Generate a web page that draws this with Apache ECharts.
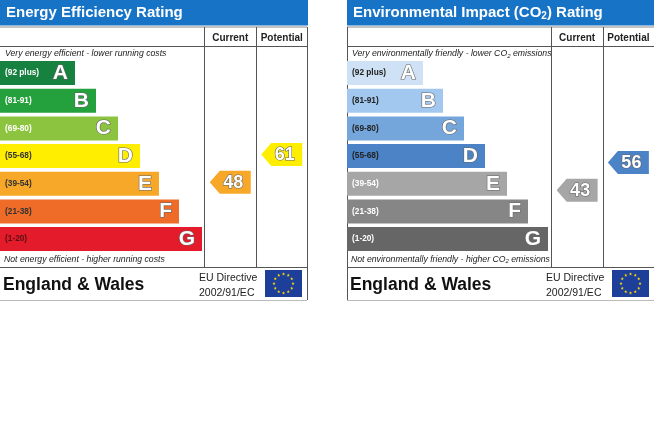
<!DOCTYPE html>
<html>
<head>
<meta charset="utf-8">
<script src="https://cdn.jsdelivr.net/npm/echarts@6/dist/echarts.min.js"></script>
<style>
html,body{margin:0;padding:0;background:#fff;}
#chart{width:654px;height:437px;}
</style>
</head>
<body>
<div id="chart"></div>
<script>
// ---------------- DATA ----------------
const bandLetters = ['A', 'B', 'C', 'D', 'E', 'F', 'G'];
const bandRanges = ['(92 plus)', '(81-91)', '(69-80)', '(55-68)', '(39-54)', '(21-38)', '(1-20)'];
const bandMinScores = [92, 81, 69, 55, 39, 21, 1];
const scoreColumns = ['Current', 'Potential'];

// bar lengths (scale 0..204)
const energyBarLengths = [75, 96, 118, 140, 159, 179, 202];
const co2BarLengths = [76, 96, 117, 138, 160, 181, 201];

const energyScores = [48, 61];   // Current, Potential
const co2Scores = [43, 56];      // Current, Potential

const energyTitle = 'Energy Efficiency Rating';
const co2Title = 'Environmental Impact (CO{s|2}) Rating';
const energyTopNote = 'Very energy efficient - lower running costs';
const energyBottomNote = 'Not energy efficient - higher running costs';
const co2TopNote = 'Very environmentally friendly - lower CO{s|2} emissions';
const co2BottomNote = 'Not environmentally friendly - higher CO{s|2} emissions';
const regionLabel = 'England & Wales';
const directiveLines = ['EU Directive', '2002/91/EC'];

// ---------------- STYLES ----------------
const energyColors = ['#17813f', '#24a13c', '#8cc43f', '#ffee00', '#f7a828', '#ee6b28', '#e31b2a'];
const co2Colors = ['#cfe1f4', '#a2c8ef', '#74a6db', '#4b83c6', '#a6a6a6', '#868686', '#666666'];
const energyRangeTextColors = ['#fff', '#fff', '#fff', '#333', '#333', '#333', '#5a1010'];
const co2RangeTextColors = ['#222', '#222', '#222', '#222', '#fff', '#fff', '#fff'];
const FONT = '"Liberation Sans", Arial, sans-serif';
const headerBlue = '#1673c6';
const lineGray = '#555';

function bandOf(score) {
  for (let i = 0; i < bandMinScores.length; i++) if (score >= bandMinScores[i]) return i;
  return bandMinScores.length - 1;
}

// ---------------- LAYOUT ----------------
const panels = [
  { ox: 0, lengths: energyBarLengths, colors: energyColors, rangeColors: energyRangeTextColors,
    scores: energyScores, title: energyTitle, top: energyTopNote, bottom: energyBottomNote, arrowShift: -1.5 },
  { ox: 347, lengths: co2BarLengths, colors: co2Colors, rangeColors: co2RangeTextColors,
    scores: co2Scores, title: co2Title, top: co2TopNote, bottom: co2BottomNote, arrowShift: 6.5 }
];
const PW = 307;          // panel width
const gridTop = 59.2, gridH = 193.7;

const grid = [], xAxis = [], yAxis = [], series = [], graphic = [];

panels.forEach((p, k) => {
  const gBars = k * 2, gScores = k * 2 + 1;
  grid.push({ left: p.ox, top: gridTop, width: 204, height: gridH });
  grid.push({ left: p.ox + 204.5, top: gridTop, width: 103, height: gridH });

  xAxis.push({ gridIndex: gBars, type: 'value', min: 0, max: 204, show: false });
  yAxis.push({ gridIndex: gBars, type: 'category', data: bandLetters, inverse: true, show: false });

  xAxis.push({ gridIndex: gScores, type: 'category', data: scoreColumns, position: 'top',
    axisLine: { show: false }, axisTick: { show: false }, splitLine: { show: false },
    axisLabel: { interval: 0, hideOverlap: false, margin: 16, fontSize: 10, fontWeight: 'bold', color: '#222', fontFamily: FONT } });
  yAxis.push({ gridIndex: gScores, type: 'category', data: bandLetters, inverse: true, show: false });

  // band bars with range labels
  series.push({
    type: 'bar', xAxisIndex: gBars, yAxisIndex: gBars, barWidth: 24, silent: true,
    data: p.lengths.map((v, i) => ({
      value: v, itemStyle: { color: p.colors[i] },
      label: { color: p.rangeColors[i] }
    })),
    label: { show: true, position: 'insideLeft', distance: 5, fontSize: 8.3, fontWeight: 'bold',
      fontFamily: FONT, formatter: (d) => bandRanges[d.dataIndex] },
    animation: false
  });
  // overlay for band letters
  series.push({
    type: 'bar', xAxisIndex: gBars, yAxisIndex: gBars, barWidth: 24, barGap: '-100%', silent: true,
    data: p.lengths.slice(),
    itemStyle: { color: 'rgba(0,0,0,0)' },
    label: { show: true, position: 'insideRight', distance: 7, fontSize: 21, fontWeight: 'bold',
      fontFamily: FONT, color: '#fff', textBorderColor: '#666', textBorderWidth: 1.2,
      formatter: (d) => bandLetters[d.dataIndex] },
    animation: false
  });
  // score arrows
  series.push({
    type: 'custom', xAxisIndex: gScores, yAxisIndex: gScores, silent: true, animation: false,
    data: p.scores.map((s, c) => [c, bandOf(s), s]),
    renderItem: (params, api) => {
      const c = api.coord([api.value(0), api.value(1)]);
      const score = api.value(2);
      const col = p.colors[api.value(1)];
      const w = 41, h = 23, tip = 10;
      const x0 = c[0] - w / 2, cy = c[1] + p.arrowShift;
      return {
        type: 'group',
        children: [
          { type: 'polygon', shape: { points: [[x0, cy], [x0 + tip, cy - h / 2], [x0 + w, cy - h / 2], [x0 + w, cy + h / 2], [x0 + tip, cy + h / 2]] },
            style: { fill: col } },
          { type: 'text', style: { text: String(score), x: c[0] + 3, y: cy + 0.5, align: 'center', verticalAlign: 'middle',
            font: 'bold 18px ' + FONT, fill: '#fff', stroke: '#666', lineWidth: 1.2 } }
        ]
      };
    }
  });

  // ---- frame & texts ----
  const ox = p.ox;
  const L = (x1, y1, x2, y2, color) => graphic.push({ type: 'line', silent: true,
    shape: { x1, y1, x2, y2 }, style: { stroke: color || lineGray, lineWidth: 1 } });

  graphic.push({ type: 'rect', silent: true, shape: { x: ox, y: 0, width: PW + 1, height: 25.5 }, style: { fill: headerBlue } });
  graphic.push({ type: 'text', silent: true, x: ox + 6, y: 13,
    style: { text: p.title, font: 'bold 15px ' + FONT, fill: '#fff', verticalAlign: 'middle',
      rich: { s: { fontSize: 10, fontWeight: 'bold', fill: '#fff', fontFamily: FONT, padding: [7, 0, 0, 0] } } } });

  L(ox, 27, ox + PW, 27, '#888');
  L(ox, 46.5, ox + PW, 46.5);
  L(ox + 204.5, 27, ox + 204.5, 267);
  L(ox + 256.5, 27, ox + 256.5, 267);
  if (ox + PW < 654) L(ox + PW + 0.5, 27, ox + PW + 0.5, 300);
  if (ox > 0) L(ox + 0.5, 27, ox + 0.5, 300);
  L(ox, 267.5, ox + PW, 267.5);
  L(ox, 300.5, ox + PW, 300.5, '#bbb');

  graphic.push({ type: 'text', silent: true, x: ox + 5, y: 54,
    style: { text: p.top, font: 'italic 8.7px ' + FONT, fill: '#222', verticalAlign: 'middle',
      rich: { s: { fontSize: 6, fontStyle: 'italic', fill: '#222', fontFamily: FONT, padding: [4, 0, 0, 0] } } } });
  graphic.push({ type: 'text', silent: true, x: ox + 4, y: 259.5,
    style: { text: p.bottom, font: 'italic 8.7px ' + FONT, fill: '#222', verticalAlign: 'middle',
      rich: { s: { fontSize: 6, fontStyle: 'italic', fill: '#222', fontFamily: FONT, padding: [4, 0, 0, 0] } } } });

  graphic.push({ type: 'text', silent: true, x: ox + 3, y: 285.5,
    style: { text: regionLabel, font: 'bold 17.5px ' + FONT, fill: '#111', verticalAlign: 'middle' } });
  graphic.push({ type: 'text', silent: true, x: ox + 199, y: 278,
    style: { text: directiveLines[0], font: '10.5px ' + FONT, fill: '#222', verticalAlign: 'middle' } });
  graphic.push({ type: 'text', silent: true, x: ox + 199, y: 293.5,
    style: { text: directiveLines[1], font: '10.5px ' + FONT, fill: '#222', verticalAlign: 'middle' } });

  // EU flag
  const fx = ox + 265, fy = 270, fw = 37, fh = 27;
  graphic.push({ type: 'rect', silent: true, shape: { x: fx, y: fy, width: fw, height: fh }, style: { fill: '#1d3f9a' } });
  const cx = fx + fw / 2, cyf = fy + fh / 2, R = 9.5;
  for (let i = 0; i < 12; i++) {
    const a = i * Math.PI / 6;
    const sx = cx + R * Math.cos(a), sy = cyf + R * Math.sin(a);
    const pts = [];
    for (let j = 0; j < 10; j++) {
      const r = j % 2 ? 0.7 : 1.7;
      const b = -Math.PI / 2 + j * Math.PI / 5;
      pts.push([sx + r * Math.cos(b), sy + r * Math.sin(b)]);
    }
    graphic.push({ type: 'polygon', silent: true, shape: { points: pts }, style: { fill: '#ffdd00' } });
  }
});

const chart = echarts.init(document.getElementById('chart'), null, { renderer: 'canvas' });
chart.setOption({
  animation: false,
  grid, xAxis, yAxis, series, graphic
});
</script>
</body>
</html>
